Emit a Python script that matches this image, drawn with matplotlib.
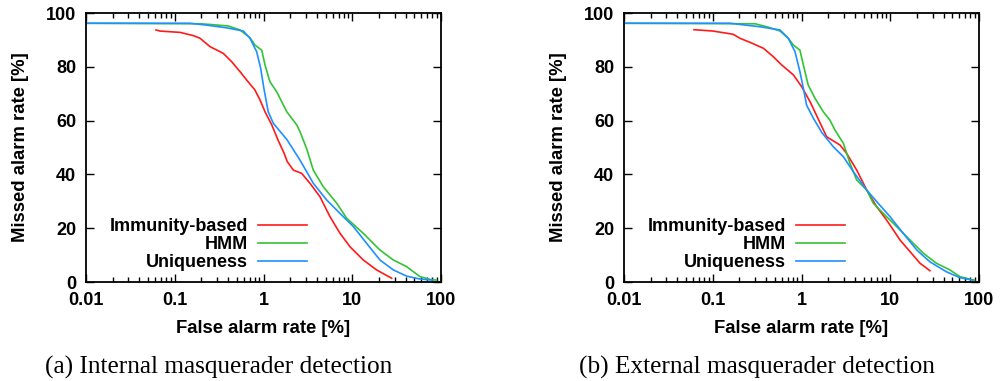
import numpy as np
import matplotlib
matplotlib.use("Agg")
import matplotlib.pyplot as plt
from matplotlib.ticker import LogLocator, FixedLocator, NullFormatter

# --- data (false alarm rate [%], missed alarm rate [%]) ---
# (a) internal masquerader detection
int_imm_x = [0.0615, 0.068, 0.115, 0.162, 0.193, 0.25, 0.352, 0.438, 0.544, 0.646, 0.80, 0.913, 1.04, 1.24,
             1.47, 1.70, 1.85, 2.17, 2.69, 3.34, 4.33, 5.61, 7.28, 9.44, 13.3, 18.8, 27.8]
int_imm_y = [93.7, 93.3, 92.8, 91.6, 90.6, 87.5, 85.0, 81.9, 78.2, 75.1, 71.4, 67.7, 63.3, 58.4,
             52.5, 48.0, 44.8, 41.6, 40.4, 36.7, 31.7, 24.3, 18.1, 13.1, 8.2, 4.5, 1.4]
int_hmm_x = [0.01, 0.2, 0.40, 0.544, 0.705, 0.80, 0.955, 1.04, 1.18, 1.41, 1.83, 2.37, 2.57, 3.07,
             3.64, 4.72, 6.68, 8.65, 13.3, 20.5, 29, 41, 58, 75, 89]
int_hmm_y = [96.2, 96.0, 95.2, 93.7, 90.8, 88.1, 86.2, 80.7, 74.5, 70.7, 63.3, 58.4, 56.0, 49.5,
             41.6, 35.4, 29.3, 23.7, 18.1, 11.9, 8.2, 5.7, 2.0, 1.0, 0.7]
int_uni_x = [0.01, 0.148, 0.229, 0.385, 0.593, 0.705, 0.838, 0.93, 1.01, 1.13, 1.29, 1.83, 2.57, 3.64,
             5.15, 7.28, 10.3, 14.5, 20.5, 29, 41, 58, 81]
int_uni_y = [96.2, 96.2, 95.5, 94.5, 93.3, 90.6, 85.6, 79.4, 72.0, 63.3, 59.0, 53.0, 45.4, 36.7,
             30.5, 25.5, 20.6, 14.4, 8.2, 4.5, 2.2, 1.1, 0.7]

# (b) external masquerader detection
ext_imm_x = [0.0615, 0.101, 0.17, 0.203, 0.263, 0.372, 0.48, 0.598, 0.81, 1.005, 1.25, 1.55, 1.92,
             2.72, 3.23, 4.19, 5.43, 7.03, 9.12, 12.9, 16.7, 21.6, 28]
ext_imm_y = [93.8, 93.3, 92.1, 90.6, 89.1, 86.9, 83.8, 80.7, 77.0, 72.6, 67.0, 60.5, 54.0,
             50.9, 47.8, 41.6, 34.2, 28.0, 23.0, 15.6, 11.3, 7.0, 4.2]
ext_hmm_x = [0.01, 0.3, 0.405, 0.573, 0.71, 0.81, 0.96, 1.05, 1.19, 1.42, 1.76, 2.09, 2.38, 2.96,
             3.52, 4.19, 5.43, 6.44, 8.35, 11.8, 16.7, 23.6, 33, 47, 61, 80, 89]
ext_hmm_y = [96.2, 96.0, 94.9, 93.3, 90.6, 88.1, 86.2, 80.7, 73.2, 68.3, 63.3, 60.2, 56.5, 51.6,
             44.1, 37.9, 34.2, 29.3, 25.5, 20.6, 15.6, 10.7, 7.0, 4.5, 2.0, 1.0, 0.7]
ext_uni_x = [0.01, 0.156, 0.34, 0.573, 0.71, 0.845, 0.96, 1.05, 1.14, 1.36, 1.70, 2.28, 2.96, 3.84,
             5.43, 7.03, 9.94, 14.0, 19.9, 28, 43, 61, 85]
ext_uni_y = [96.2, 96.2, 94.9, 93.7, 90.6, 85.6, 78.2, 72.0, 65.8, 60.9, 55.5, 50.3, 46.6, 41.0,
             34.2, 29.9, 24.3, 18.1, 11.9, 7.5, 3.8, 1.6, 0.7]

labels = ["Immunity-based", "HMM", "Uniqueness"]
colors = ["#ff1a1a", "#33c433", "#1e90ff"]
captions = ["(a) Internal masquerader detection", "(b) External masquerader detection"]

panels = [
    [(int_imm_x, int_imm_y), (int_hmm_x, int_hmm_y), (int_uni_x, int_uni_y)],
    [(ext_imm_x, ext_imm_y), (ext_hmm_x, ext_hmm_y), (ext_uni_x, ext_uni_y)],
]

plt.rcParams["font.family"] = ["Liberation Sans", "DejaVu Sans"]
plt.rcParams["font.weight"] = "bold"

fig = plt.figure(figsize=(10, 3.81), dpi=100)
lefts = [0.086, 0.624]

for i, series in enumerate(panels):
    ax = fig.add_axes([lefts[i], 0.2598, 0.355, 0.706])
    for (xs, ys), lab, col in zip(series, labels, colors):
        ax.plot(xs, ys, color=col, lw=1.2, label=lab)
    ax.set_xscale("log")
    ax.set_xlim(0.01, 100)
    ax.set_ylim(0, 100)
    ax.xaxis.set_major_locator(FixedLocator([0.01, 0.1, 1, 10, 100]))
    ax.set_xticklabels(["0.01", "0.1", "1", "10", "100"])
    ax.xaxis.set_minor_locator(LogLocator(base=10, subs=np.arange(2, 10), numticks=20))
    ax.xaxis.set_minor_formatter(NullFormatter())
    ax.set_yticks([0, 20, 40, 60, 80, 100])
    ax.tick_params(which="both", direction="in", top=True, right=True,
                   labelsize=13, width=1.0)
    ax.tick_params(which="major", length=6, pad=7)
    ax.tick_params(which="minor", length=3.5)
    for s in ax.spines.values():
        s.set_linewidth(1.3)
    ax.set_xlabel("False alarm rate [%]", fontsize=13.3, fontweight="bold", labelpad=8)
    ax.set_ylabel("Missed alarm rate [%]", fontsize=13.3, fontweight="bold", labelpad=12)
    ax.legend(loc="lower right", bbox_to_anchor=(0.6225, 0.04), frameon=False,
              markerfirst=False, fontsize=13, handlelength=2.7, handletextpad=0.55,
              labelspacing=0.05, borderpad=0, borderaxespad=0)
    fig.text(lefts[i] + 0.133, 0.036, captions[i], ha="center", va="center",
             fontsize=18.2, fontweight="normal",
             family=["Liberation Serif", "DejaVu Serif"])

fig.savefig("out.png", dpi=100)
